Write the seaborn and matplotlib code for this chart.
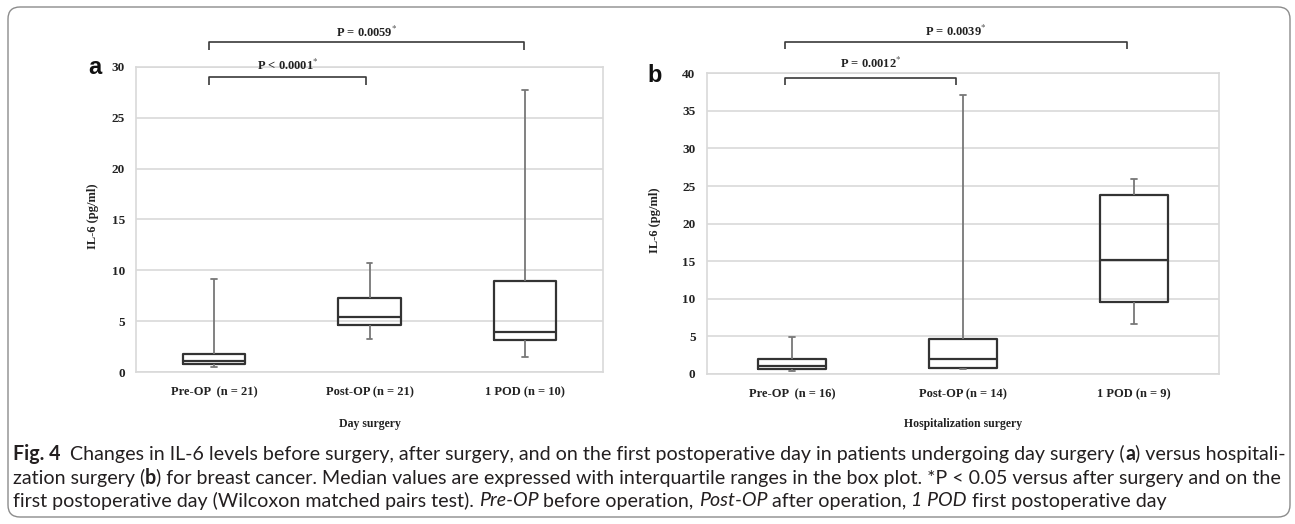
import numpy as np
import pandas as pd
import matplotlib
matplotlib.use("Agg")
import matplotlib.pyplot as plt
import seaborn as sns
from matplotlib.patches import FancyBboxPatch
from matplotlib.transforms import IdentityTransform
from matplotlib.font_manager import FontProperties

# ---------------- data ----------------
categories_a = ["Pre-OP  (n = 21)", "Post-OP (n = 21)", "1 POD (n = 10)"]
min_a = [0.55, 3.3, 1.5]
q1_a = [0.8, 4.63, 3.15]
med_a = [1.08, 5.45, 3.98]
q3_a = [1.76, 7.28, 8.98]
max_a = [9.17, 10.7, 27.7]

categories_b = ["Pre-OP  (n = 16)", "Post-OP (n = 14)", "1 POD (n = 9)"]
min_b = [0.4, 0.7, 6.65]
q1_b = [0.71, 0.8, 9.52]
med_b = [1.1, 2.04, 15.2]
q3_b = [1.99, 4.65, 23.8]
max_b = [4.91, 37.05, 25.9]

pvals_a = ["P < 0.0001", "P = 0.0059"]
pvals_b = ["P = 0.0012", "P = 0.0039"]

xlabel_a = "Day surgery"
xlabel_b = "Hospitalization surgery"
ylabel = "IL-6 (pg/ml)"

W, H = 1295, 524
sns.set_style("white")
plt.rcParams["mathtext.fontset"] = "stix"
SERIF = ["Liberation Serif", "DejaVu Serif"]
BOXC = "#333333"
WHISC = "#777777"
GRIDC = "#d9d9d9"

fig = plt.figure(figsize=(W / 100, H / 100), dpi=100)


def px_axes(x0, y_top, x1, y_bot):
    return fig.add_axes([x0 / W, 1 - y_bot / H, (x1 - x0) / W, (y_bot - y_top) / H])


def long_df(cats, mins, q1s, meds, q3s, maxs):
    rows = []
    for c, a, b, m, d, e in zip(cats, mins, q1s, meds, q3s, maxs):
        for v in (a, b, m, d, e):
            rows.append({"group": c, "value": v})
    return pd.DataFrame(rows)


def panel(ax, cats, mins, q1s, meds, q3s, maxs, ymax, xlabel, ylab_x, pad_y):
    df = long_df(cats, mins, q1s, meds, q3s, maxs)
    sns.boxplot(data=df, x="group", y="value", order=cats, ax=ax,
                whis=(0, 100), width=0.4, fill=False, color=BOXC,
                linewidth=1.6, showfliers=False,
                boxprops=dict(color=BOXC, linewidth=1.6),
                medianprops=dict(color=BOXC, linewidth=1.6),
                whiskerprops=dict(color=WHISC, linewidth=1.3),
                capprops=dict(color=WHISC, linewidth=1.3),
                capwidths=0.035)
    ax.set_ylim(0, ymax)
    ax.set_xlim(-0.5, 2.5)
    ax.set_yticks(np.arange(0, ymax + 1, 5))
    ax.yaxis.grid(True, color=GRIDC, linewidth=1.2)
    ax.xaxis.grid(False)
    ax.set_axisbelow(True)
    for s in ax.spines.values():
        s.set_visible(True)
        s.set_color(GRIDC)
        s.set_linewidth(1.2)
    ax.tick_params(axis="both", length=0)
    ax.tick_params(axis="y", pad=pad_y)
    ax.tick_params(axis="x", pad=10)
    for lab in ax.get_xticklabels():
        lab.set_fontfamily(SERIF)
        lab.set_fontsize(9)
        lab.set_fontweight("bold")
        lab.set_color("#222222")
    for lab in ax.get_yticklabels():
        lab.set_fontfamily(SERIF)
        lab.set_fontsize(9.5)
        lab.set_fontweight("bold")
        lab.set_color("#222222")
    ax.set_xlabel(xlabel, family=SERIF, fontsize=8.5, fontweight="bold", color="#222222")
    ax.set_ylabel(ylabel, family=SERIF, fontsize=9, fontweight="bold", color="#222222")
    ax.xaxis.label.set_va("center")
    ax.yaxis.label.set_va("center")
    ax.yaxis.set_label_coords(ylab_x, 0.51)


def bracket(ax, x0, x1, y, drop, label, ytext):
    ax.plot([x0, x0, x1, x1], [y - drop, y, y, y - drop], color="#3a3a3a",
            linewidth=1.2, clip_on=False, solid_capstyle="butt")
    ax.text((x0 + x1) / 2, ytext, label + r"$^{*}$", ha="center", va="center",
            family=SERIF, fontsize=9, fontweight="bold", color="#222222",
            clip_on=False)


# ---------------- panel a ----------------
ax_a = px_axes(136, 66.7, 603, 372.3)
panel(ax_a, categories_a, min_a, q1_a, med_a, q3_a, max_a, 30, xlabel_a, -0.092, 8)
ax_a.xaxis.set_label_coords(0.5, (372.3 - 424) / 305.6)
bracket(ax_a, -0.03, 0.98, 28.95, 0.72, pvals_a[0], 30.1)
bracket(ax_a, -0.03, 1.99, 32.4, 0.72, pvals_a[1], 33.4)
fig.text(95 / W, 1 - 67 / H, "a", family=["Liberation Sans", "DejaVu Sans"],
         fontsize=17, fontweight="bold", ha="center", va="center", color="#111111")

# ---------------- panel b ----------------
ax_b = px_axes(706.7, 73.3, 1219.3, 374)
panel(ax_b, categories_b, min_b, q1_b, med_b, q3_b, max_b, 40, xlabel_b, -0.101, 8)
ax_b.xaxis.set_label_coords(0.5, (374 - 424) / 300.7)
bracket(ax_b, -0.04, 0.96, 39.4, 0.9, pvals_b[0], 41.3)
bracket(ax_b, -0.04, 1.96, 44.1, 0.9, pvals_b[1], 45.55)
fig.text(655 / W, 1 - 75 / H, "b", family=["Liberation Sans", "DejaVu Sans"],
         fontsize=17, fontweight="bold", ha="center", va="center", color="#111111")

# ---------------- caption ----------------
CAPF = ["Lato", "DejaVu Sans"]
CAPC = "#231f20"
caption_lines = [
    [("Fig. 4", "bold", "normal"),
     ("  Changes in IL-6 levels before surgery, after surgery, and on the first postoperative day in patients undergoing day surgery (", "normal", "normal"),
     ("a", "bold", "normal"),
     (") versus hospitali-", "normal", "normal")],
    [("zation surgery (", "normal", "normal"),
     ("b", "bold", "normal"),
     (") for breast cancer. Median values are expressed with interquartile ranges in the box plot. *P < 0.05 versus after surgery and on the", "normal", "normal")],
    [("first postoperative day (Wilcoxon matched pairs test). ", "normal", "normal"),
     ("Pre-OP", "normal", "italic"),
     (" before operation, ", "normal", "normal"),
     ("Post-OP", "normal", "italic"),
     (" after operation, ", "normal", "normal"),
     ("1 POD", "normal", "italic"),
     (" first postoperative day", "normal", "normal")],
]
caption_y = [454, 478, 501]
renderer = fig.canvas.get_renderer()


def seg_width(txt, weight, style, size):
    fp = FontProperties(family=CAPF, weight=weight, style=style, size=size)
    w1 = renderer.get_text_width_height_descent("x" + txt + "x", fp, ismath=False)[0]
    w0 = renderer.get_text_width_height_descent("xx", fp, ismath=False)[0]
    return w1 - w0


base = 10.0
w_line1 = sum(seg_width(t, w, s, base) for t, w, s in caption_lines[0])
cap_size = base * 1270 / w_line1

for segs, yc in zip(caption_lines, caption_y):
    x = 13.0
    for t, w, s in segs:
        fig.text(x / W, 1 - yc / H, t, family=CAPF, fontweight=w, fontstyle=s,
                 fontsize=cap_size, color=CAPC, ha="left", va="center")
        x += seg_width(t, w, s, cap_size)

# frame
frame = FancyBboxPatch((8, H - 517), 1282, 510, boxstyle="round,pad=0,rounding_size=12",
                       transform=IdentityTransform(), fill=False,
                       edgecolor="#8c8c8c", linewidth=1.0)
fig.patches.append(frame)

fig.savefig("out.png", dpi=100)
